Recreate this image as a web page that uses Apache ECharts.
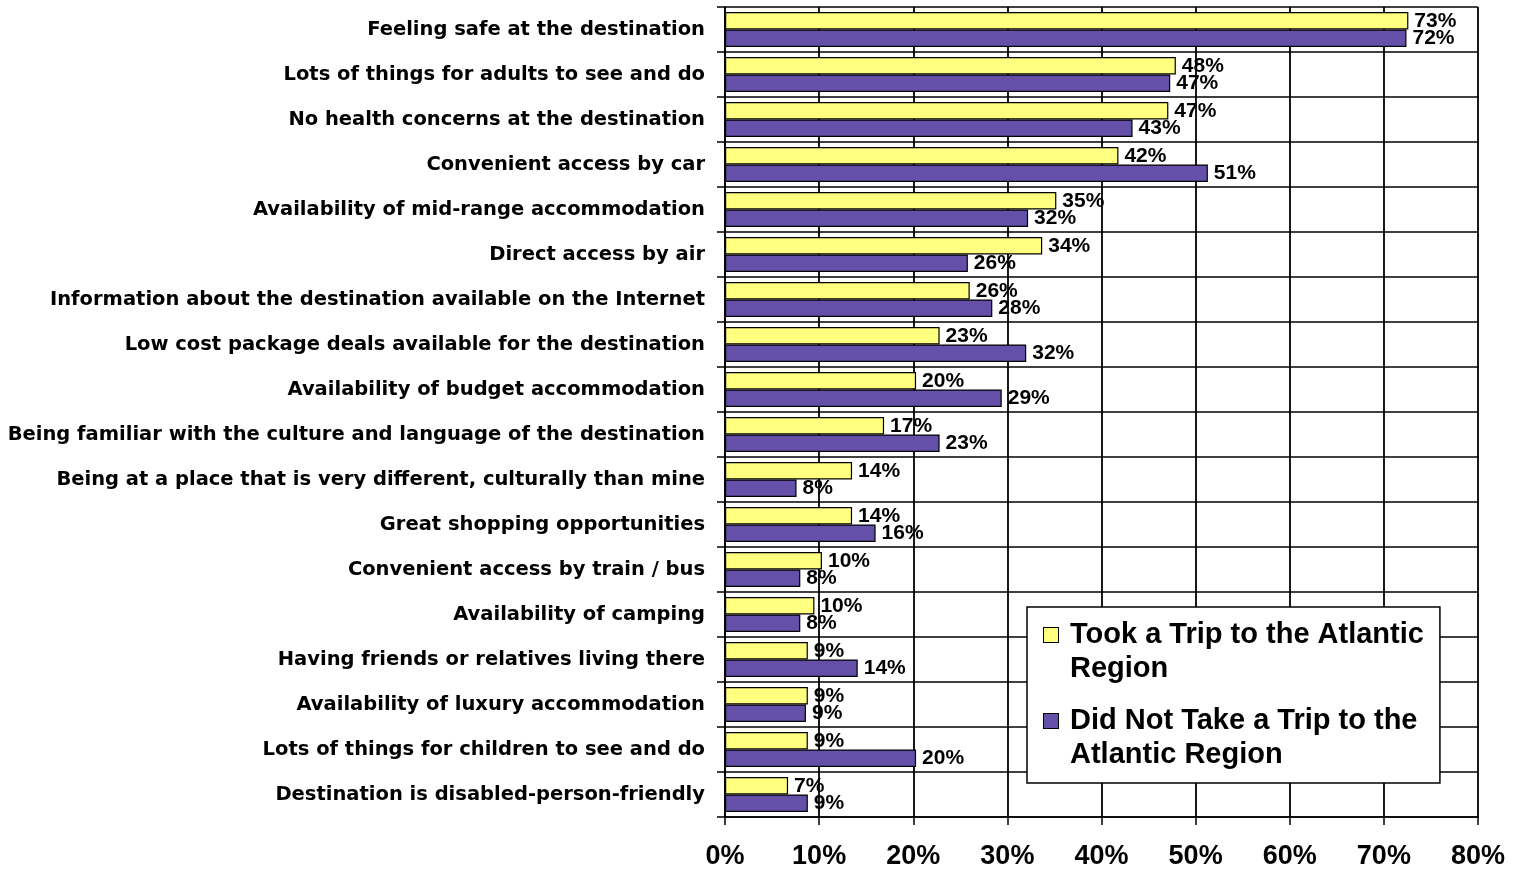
<!DOCTYPE html>
<html><head><meta charset="utf-8">
<script src="https://cdn.jsdelivr.net/npm/echarts@6/dist/echarts.min.js"></script>
<style>html,body{margin:0;padding:0;background:#fff}#c{width:1516px;height:869px}</style>
</head><body><div id="c"></div>
<script>
const categories = [
 "Feeling safe at the destination",
 "Lots of things for adults to see and do",
 "No health concerns at the destination",
 "Convenient access by car",
 "Availability of mid-range accommodation",
 "Direct access by air",
 "Information about the destination available on the Internet",
 "Low cost package deals available for the destination",
 "Availability of budget accommodation",
 "Being familiar with the culture and language of the destination",
 "Being at a place that is very different, culturally than mine",
 "Great shopping opportunities",
 "Convenient access by train / bus",
 "Availability of camping",
 "Having friends or relatives living there",
 "Availability of luxury accommodation",
 "Lots of things for children to see and do",
 "Destination is disabled-person-friendly"
];
const tookTrip = [72.6,47.9,47.1,41.8,35.2,33.7,26.0,22.8,20.3,16.9,13.5,13.5,10.3,9.5,8.8,8.8,8.8,6.7];
const didNotTake = [72.4,47.3,43.3,51.3,32.2,25.8,28.4,32.0,29.4,22.8,7.6,16.0,8.0,8.0,14.1,8.6,20.3,8.8];
const seriesNames = ["Took a Trip to the Atlantic Region","Did Not Take a Trip to the Atlantic Region"];
const legendLines = [["Took a Trip to the Atlantic","Region"],["Did Not Take a Trip to the","Atlantic Region"]];
const xTicks = {min:0, max:80, interval:10};
const colors = ['#FFFF80','#6450A8'];

const font = '"Liberation Sans", Arial, sans-serif';
const catFont = '"DejaVu Sans", sans-serif';
const chart = echarts.init(document.getElementById('c'));
const lbl = {show:true, position:'right', distance:6, color:'#000', fontFamily:font, fontWeight:'bold', fontSize:21,
  formatter: p => Math.round(p.value) + '%'};
chart.setOption({
  backgroundColor:'#fff',
  animation:false,
  grid:{left:725, right:38, top:7, bottom:52, containLabel:false, outerBoundsMode:'none'},
  legend:{
    orient:'vertical', left:1027, top:607,
    backgroundColor:'#fff', borderColor:'#000', borderWidth:1.5,
    padding:[11,16,11,11], itemGap:18, itemWidth:0, itemHeight:0,
    icon:'rect',
    formatter: name => {
      const i = seriesNames.indexOf(name);
      const l = legendLines[i];
      return '{sq' + i + '|}{sp|}{t|' + l[0] + '}\n{ind|}{t|' + l[1] + '}';
    },
    textStyle:{
      fontFamily:font, fontWeight:'bold', fontSize:29, color:'#000', lineHeight:34,
      rich:{
        sq0:{width:14, height:14, backgroundColor:colors[0], borderColor:'#000', borderWidth:1},
        sq1:{width:14, height:14, backgroundColor:colors[1], borderColor:'#000', borderWidth:1},
        sp:{width:12},
        ind:{width:26},
        t:{fontFamily:font, fontWeight:'bold', fontSize:29, color:'#000', lineHeight:34}
      }
    },
    data:seriesNames
  },
  xAxis:{
    type:'value', min:xTicks.min, max:xTicks.max, interval:xTicks.interval,
    axisLine:{show:true, lineStyle:{color:'#000', width:1.5}},
    axisTick:{show:true, length:8, lineStyle:{color:'#000', width:1.5}},
    splitLine:{show:true, lineStyle:{color:'#000', width:1.8}},
    axisLabel:{formatter:'{value}%', fontFamily:font, fontWeight:'bold', fontSize:27, color:'#000', margin:26}
  },
  yAxis:{
    type:'category', inverse:true, data:categories,
    axisLine:{show:true, lineStyle:{color:'#000', width:1.5}},
    axisTick:{show:true, length:8, interval:0, lineStyle:{color:'#000', width:1.5}},
    splitLine:{show:true, interval:0, lineStyle:{color:'#000', width:1.5}},
    axisLabel:{fontFamily:catFont, fontWeight:'bold', fontSize:19.5, color:'#000', margin:20, interval:0}
  },
  series:[
    {name:seriesNames[0], type:'bar', data:tookTrip, barGap:'0%', barCategoryGap:'22%',
     itemStyle:{color:colors[0], borderColor:'#000', borderWidth:1.2}, label:lbl},
    {name:seriesNames[1], type:'bar', data:didNotTake,
     itemStyle:{color:colors[1], borderColor:'#000', borderWidth:1.2}, label:lbl}
  ]
});
</script></body></html>
